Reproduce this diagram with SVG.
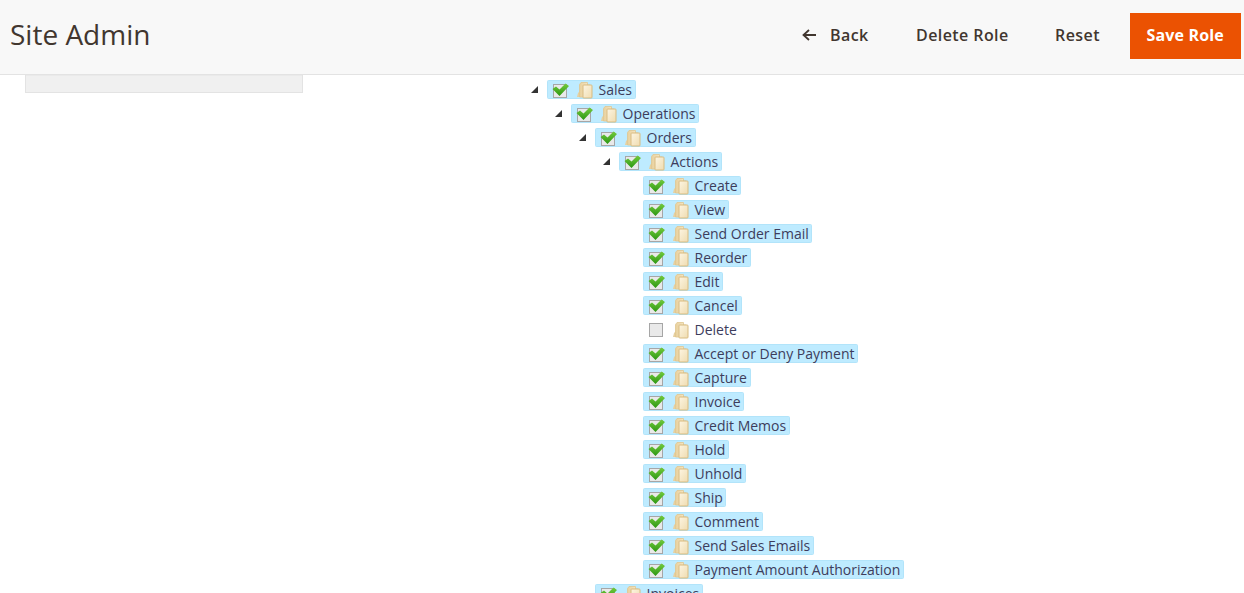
<svg xmlns="http://www.w3.org/2000/svg" width="1244" height="593" viewBox="0 0 1244 593">
<style>
text{font-family:"Open Sans","Noto Sans","DejaVu Sans",sans-serif}
.t{font-size:14px;fill:#3d3d5c}
.b{font-size:16px;font-weight:600;fill:#41362f;letter-spacing:.42px}
.h{fill:#beebff;stroke:#b2e4fa;stroke-width:1}
.cb{fill:#e9e9e9;stroke:#a6a6a6;stroke-width:1}
</style>
<defs>
<linearGradient id="fg" x1="0" y1="0" x2="1" y2="1"><stop offset="0" stop-color="#fdf5e2"/><stop offset="1" stop-color="#efdcb0"/></linearGradient>
<linearGradient id="fb" x1="0" y1="0" x2="1" y2="0"><stop offset="0" stop-color="#e8d09c"/><stop offset="1" stop-color="#f8ebcd"/></linearGradient>
<linearGradient id="gc" x1="0" y1="0" x2="0" y2="1"><stop offset="0" stop-color="#74cc3e"/><stop offset="1" stop-color="#2c9612"/></linearGradient>
<g id="chk"><rect class="cb" x=".5" y="1.500" width="13" height="13"/><path d="M-.5 6L3 3.500L6.500 6.500L12.500 .5L16 3L6.500 13Z" fill="url(#gc)"/></g>
<g id="off"><rect class="cb" x=".5" y=".5" width="13" height="13"/></g>
<g id="fld"><path d="M0 15L1 11L3 9V15Z" fill="#e6d0a0"/><path d="M2.500 15V2.500L4 .5H10.500V3H13V15Z" fill="url(#fb)" stroke="#e0c690" stroke-width=".8"/><rect x="6" y="3" width="9" height="13" rx=".8" fill="url(#fg)" stroke="#d8bb80"/></g>
<path id="tri" d="M7 0V7H0Z" fill="#333"/>
</defs>
<rect width="1244" height="593" fill="#fff"/>
<g id="header">
<rect width="1244" height="74" fill="#f8f8f8"/>
<rect y="74" width="1244" height="1" fill="#e3e3e3"/>
<rect x="25.500" y="75" width="277" height="17.500" fill="#f0f0f0" stroke="#e3e3e3"/>
<text x="10" y="45" font-size="28" fill="#41362f" style="font-weight:400">Site Admin</text>
</g>
<g id="btn-back"><path d="M816 35H804M809 30L803.500 35L809 40" fill="none" stroke="#41362f" stroke-width="1.800"/><text class="b" x="830" y="41">Back</text></g>
<g id="btn-delete"><text class="b" x="916" y="41">Delete Role</text></g>
<g id="btn-reset"><text class="b" x="1055" y="41">Reset</text></g>
<g id="btn-save"><rect x="1130" y="13" width="111" height="46" fill="#eb5202"/><text class="b" x="1146.500" y="41" style="fill:#fff;font-weight:700;letter-spacing:.15px">Save Role</text></g>
<g id="connectors"/>
<g id="n-sales"><use href="#tri" x="531" y="86"/><rect class="h" x="547.500" y="80.500" width="88" height="18" rx="1"/><use href="#chk" x="553" y="83"/><use href="#fld" x="577" y="82"/><text class="t" x="598.500" y="95">Sales</text></g>
<g id="n-operations"><use href="#tri" x="555" y="110"/><rect class="h" x="571.500" y="104.500" width="127" height="18" rx="1"/><use href="#chk" x="577" y="107"/><use href="#fld" x="601" y="106"/><text class="t" x="622.500" y="119">Operations</text></g>
<g id="n-orders"><use href="#tri" x="579" y="134"/><rect class="h" x="595.500" y="128.500" width="100" height="18" rx="1"/><use href="#chk" x="601" y="131"/><use href="#fld" x="625" y="130"/><text class="t" x="646.500" y="143">Orders</text></g>
<g id="n-actions"><use href="#tri" x="603" y="158"/><rect class="h" x="619.500" y="152.500" width="102" height="18" rx="1"/><use href="#chk" x="625" y="155"/><use href="#fld" x="649" y="154"/><text class="t" x="670.500" y="167">Actions</text></g>
<g id="n-create"><rect class="h" x="643.500" y="176.500" width="97" height="18" rx="1"/><use href="#chk" x="649" y="179"/><use href="#fld" x="673" y="178"/><text class="t" x="694.500" y="191">Create</text></g>
<g id="n-view"><rect class="h" x="643.500" y="200.500" width="85" height="18" rx="1"/><use href="#chk" x="649" y="203"/><use href="#fld" x="673" y="202"/><text class="t" x="694.500" y="215">View</text></g>
<g id="n-send-order-email"><rect class="h" x="643.500" y="224.500" width="168" height="18" rx="1"/><use href="#chk" x="649" y="227"/><use href="#fld" x="673" y="226"/><text class="t" x="694.500" y="239">Send Order Email</text></g>
<g id="n-reorder"><rect class="h" x="643.500" y="248.500" width="107" height="18" rx="1"/><use href="#chk" x="649" y="251"/><use href="#fld" x="673" y="250"/><text class="t" x="694.500" y="263">Reorder</text></g>
<g id="n-edit"><rect class="h" x="643.500" y="272.500" width="79" height="18" rx="1"/><use href="#chk" x="649" y="275"/><use href="#fld" x="673" y="274"/><text class="t" x="694.500" y="287">Edit</text></g>
<g id="n-cancel"><rect class="h" x="643.500" y="296.500" width="98" height="18" rx="1"/><use href="#chk" x="649" y="299"/><use href="#fld" x="673" y="298"/><text class="t" x="694.500" y="311">Cancel</text></g>
<g id="n-delete"><use href="#off" x="649" y="323"/><use href="#fld" x="673" y="322"/><text class="t" x="694.500" y="335">Delete</text></g>
<g id="n-accept"><rect class="h" x="643.500" y="344.500" width="214" height="18" rx="1"/><use href="#chk" x="649" y="347"/><use href="#fld" x="673" y="346"/><text class="t" x="694.500" y="359">Accept or Deny Payment</text></g>
<g id="n-capture"><rect class="h" x="643.500" y="368.500" width="107" height="18" rx="1"/><use href="#chk" x="649" y="371"/><use href="#fld" x="673" y="370"/><text class="t" x="694.500" y="383">Capture</text></g>
<g id="n-invoice"><rect class="h" x="643.500" y="392.500" width="100" height="18" rx="1"/><use href="#chk" x="649" y="395"/><use href="#fld" x="673" y="394"/><text class="t" x="694.500" y="407">Invoice</text></g>
<g id="n-credit-memos"><rect class="h" x="643.500" y="416.500" width="146" height="18" rx="1"/><use href="#chk" x="649" y="419"/><use href="#fld" x="673" y="418"/><text class="t" x="694.500" y="431">Credit Memos</text></g>
<g id="n-hold"><rect class="h" x="643.500" y="440.500" width="85" height="18" rx="1"/><use href="#chk" x="649" y="443"/><use href="#fld" x="673" y="442"/><text class="t" x="694.500" y="455">Hold</text></g>
<g id="n-unhold"><rect class="h" x="643.500" y="464.500" width="102" height="18" rx="1"/><use href="#chk" x="649" y="467"/><use href="#fld" x="673" y="466"/><text class="t" x="694.500" y="479">Unhold</text></g>
<g id="n-ship"><rect class="h" x="643.500" y="488.500" width="82" height="18" rx="1"/><use href="#chk" x="649" y="491"/><use href="#fld" x="673" y="490"/><text class="t" x="694.500" y="503">Ship</text></g>
<g id="n-comment"><rect class="h" x="643.500" y="512.500" width="119" height="18" rx="1"/><use href="#chk" x="649" y="515"/><use href="#fld" x="673" y="514"/><text class="t" x="694.500" y="527">Comment</text></g>
<g id="n-send-sales-emails"><rect class="h" x="643.500" y="536.500" width="170" height="18" rx="1"/><use href="#chk" x="649" y="539"/><use href="#fld" x="673" y="538"/><text class="t" x="694.500" y="551">Send Sales Emails</text></g>
<g id="n-payment"><rect class="h" x="643.500" y="560.500" width="260" height="18" rx="1"/><use href="#chk" x="649" y="563"/><use href="#fld" x="673" y="562"/><text class="t" x="694.500" y="575">Payment Amount Authorization</text></g>
<g id="n-invoices"><rect class="h" x="595.500" y="584.500" width="107" height="18" rx="1"/><use href="#chk" x="601" y="587"/><use href="#fld" x="625" y="586"/><text class="t" x="646.500" y="599">Invoices</text></g>
</svg>
